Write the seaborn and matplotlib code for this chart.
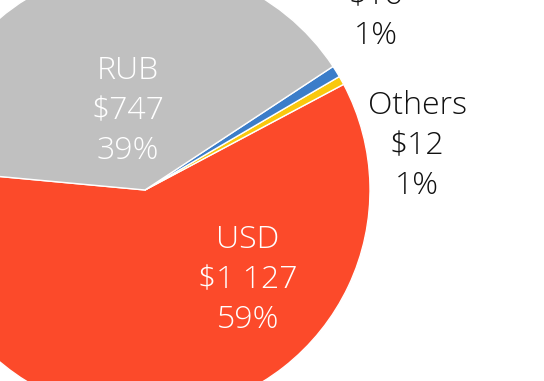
import matplotlib
matplotlib.use("Agg")
import matplotlib.pyplot as plt
import seaborn as sns

sns.set_theme(style="white")
plt.rcParams['font.family'] = ['Open Sans', 'DejaVu Sans']

# Data
categories = ["USD", "Others", "", "RUB"]
values = [1127, 12, 16, 747]
amount_labels = ["$1 127", "$12", "$16", "$747"]
pct_labels = ["59%", "1%", "1%", "39%"]
colors = ["#FC4A2A", "#F9C80E", "#3B7DC9", "#C0C0C0"]
text_colors = ["white", "#111111", "#111111", "white"]

# Layout (label centres in axis data units, pie radius = 1)
label_pos = [(0.458, -0.400), (1.209, 0.196), (1.027, 0.772), (-0.076, 0.351)]

fig = plt.figure(figsize=(5.44, 3.81), dpi=100)
ax = fig.add_axes([0, 0, 1, 1])
ax.pie(values, colors=colors, startangle=174.7, counterclock=True,
       radius=1.0, center=(0, 0),
       wedgeprops=dict(edgecolor="white", linewidth=1.0))

for cat, amt, pct, (x, y), tc in zip(categories, amount_labels, pct_labels, label_pos, text_colors):
    lines = [cat, amt, pct] if cat else [amt, pct]
    txt = "\n".join(lines)
    ax.text(x, y, txt, ha="center", va="center", color=tc, fontsize=23,
            fontweight="light", linespacing=1.34)

ax.set_xlim(-145 / 225, (544 - 145) / 225)
ax.set_ylim((190 - 381) / 225, 190 / 225)
ax.set_aspect("equal")
ax.axis("off")
fig.savefig("out.png", dpi=100)
